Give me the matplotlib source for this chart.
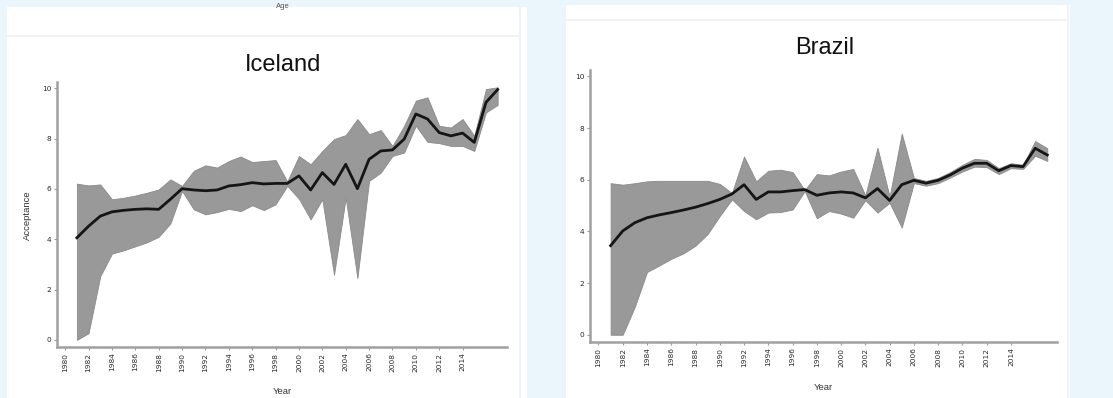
import numpy as np
import matplotlib.pyplot as plt
from matplotlib.patches import Rectangle
from matplotlib.lines import Line2D

years = list(range(1981, 2018))

iceland_mean = [4.06, 4.52, 4.92, 5.09, 5.15, 5.19, 5.21, 5.19, 5.59, 6.01,
                5.96, 5.93, 5.96, 6.12, 6.17, 6.25, 6.20, 6.22, 6.22, 6.52,
                5.96, 6.65, 6.18, 6.98, 6.01, 7.18, 7.51, 7.55, 7.98, 8.98,
                8.78, 8.24, 8.11, 8.22, 7.85, 9.44, 9.95]
iceland_upper = [6.21, 6.14, 6.18, 5.59, 5.65, 5.74, 5.85, 5.98, 6.38, 6.12,
                 6.72, 6.94, 6.85, 7.11, 7.29, 7.07, 7.11, 7.15, 6.30, 7.31,
                 6.98, 7.51, 7.98, 8.14, 8.78, 8.18, 8.34, 7.71, 8.51, 9.51,
                 9.64, 8.51, 8.44, 8.78, 8.11, 9.97, 10.04]
iceland_lower = [0.00, 0.27, 2.53, 3.43, 3.56, 3.72, 3.88, 4.10, 4.63, 5.92,
                 5.19, 4.99, 5.08, 5.21, 5.12, 5.35, 5.16, 5.39, 6.12, 5.61,
                 4.79, 5.59, 2.59, 5.65, 2.46, 6.32, 6.65, 7.31, 7.45, 8.51,
                 7.87, 7.82, 7.71, 7.71, 7.51, 9.04, 9.34]

brazil_mean = [3.45, 4.02, 4.34, 4.53, 4.64, 4.73, 4.83, 4.94, 5.08, 5.24,
               5.45, 5.81, 5.24, 5.53, 5.53, 5.58, 5.62, 5.40, 5.49, 5.53,
               5.49, 5.30, 5.66, 5.20, 5.81, 5.98, 5.87, 5.98, 6.19, 6.45,
               6.64, 6.64, 6.35, 6.55, 6.51, 7.22, 6.96]
brazil_upper = [5.87, 5.81, 5.87, 5.94, 5.96, 5.96, 5.96, 5.96, 5.96, 5.84,
                5.49, 6.90, 5.94, 6.35, 6.39, 6.30, 5.60, 6.22, 6.17, 6.32,
                6.42, 5.40, 7.24, 5.35, 7.79, 6.07, 5.96, 6.07, 6.30, 6.58,
                6.81, 6.77, 6.45, 6.64, 6.58, 7.50, 7.22]
brazil_lower = [0.00, 0.00, 1.09, 2.43, 2.68, 2.94, 3.15, 3.45, 3.90, 4.60,
                5.24, 4.79, 4.47, 4.73, 4.75, 4.85, 5.56, 4.51, 4.79, 4.69,
                4.53, 5.21, 4.73, 5.11, 4.15, 5.87, 5.77, 5.87, 6.09, 6.32,
                6.51, 6.49, 6.22, 6.45, 6.42, 6.93, 6.73]

x_ticks = list(range(1980, 2015, 2))
y_ticks = [0, 2, 4, 6, 8, 10]

W, H = 1113, 398
fig = plt.figure(figsize=(W / 100, H / 100), dpi=100)
fig.patch.set_facecolor('#ebf5fc')


def px_rect(x0, y0, x1, y1):
    return [x0 / W, 1 - y1 / H, (x1 - x0) / W, (y1 - y0) / H]


def fx(x):
    return x / W


def fy(y):
    return 1 - y / H


# white page panels behind the charts
for x0, y0, x1, line_y, edge_x in [(7, 7, 527, 36, 520), (566, 5, 1070, 20, 1068)]:
    fig.patches.append(Rectangle((fx(x0), 0), fx(x1) - fx(x0), fy(y0),
                                 transform=fig.transFigure, facecolor='white',
                                 edgecolor='none', zorder=-2))
    fig.lines.append(Line2D([fx(x0), fx(edge_x)], [fy(line_y), fy(line_y)],
                            transform=fig.transFigure, color='#f1f3f3', lw=1.5,
                            zorder=-1))
    fig.lines.append(Line2D([fx(edge_x), fx(edge_x)], [0, fy(y0)],
                            transform=fig.transFigure, color='#f1f3f3', lw=1.5,
                            zorder=-1))

# label left over from the chart above
fig.text(fx(283), fy(7), 'Age', ha='center', va='center', fontsize=5.5,
         color='#555555', family='Liberation Sans')

panels = [
    ('Iceland', iceland_mean, iceland_upper, iceland_lower,
     (57, 82, 507, 347), 65, 391, True),
    ('Brazil', brazil_mean, brazil_upper, brazil_lower,
     (590, 70, 1057, 342), 48, 387, False),
]

for name, mean, upper, lower, box, title_y, xlab_y, ylab in panels:
    ax = fig.add_axes(px_rect(*box))
    ax.set_zorder(2)
    ax.set_facecolor('none')
    ax.fill_between(years, lower, upper, color='#999999', lw=0.6,
                    edgecolor='#8a8a8a')
    ax.plot(years, mean, color='#151515', lw=2.0)
    ax.set_xlim(1979.3, 2017.8)
    ax.set_ylim(-0.28, 10.25)
    ax.set_xticks(x_ticks)
    ax.set_xticklabels([str(t) for t in x_ticks], rotation=90)
    ax.set_yticks(y_ticks)
    for s in ['top', 'right']:
        ax.spines[s].set_visible(False)
    for s in ['left', 'bottom']:
        ax.spines[s].set_color('#a0a0a0')
        ax.spines[s].set_linewidth(1.8)
    ax.tick_params(length=2.5, width=0.8, color='#9a9a9a', labelsize=5.3,
                   labelcolor='#2a2a2a', pad=1.5)
    fig.text(fx((box[0] + box[2]) / 2 + 1), fy(title_y), name, ha='center',
             va='center', fontsize=17, family='Liberation Sans', color='#111111')
    fig.text(fx((box[0] + box[2]) / 2), fy(xlab_y), 'Year', ha='center',
             va='center', fontsize=6.8, family='Liberation Sans', color='#333333')
    if ylab:
        fig.text(fx(27), fy(215), 'Acceptance', ha='center', va='center',
                 rotation=90, fontsize=6.8, family='Liberation Sans',
                 color='#333333')

fig.savefig('out.png', dpi=100, facecolor=fig.get_facecolor())
